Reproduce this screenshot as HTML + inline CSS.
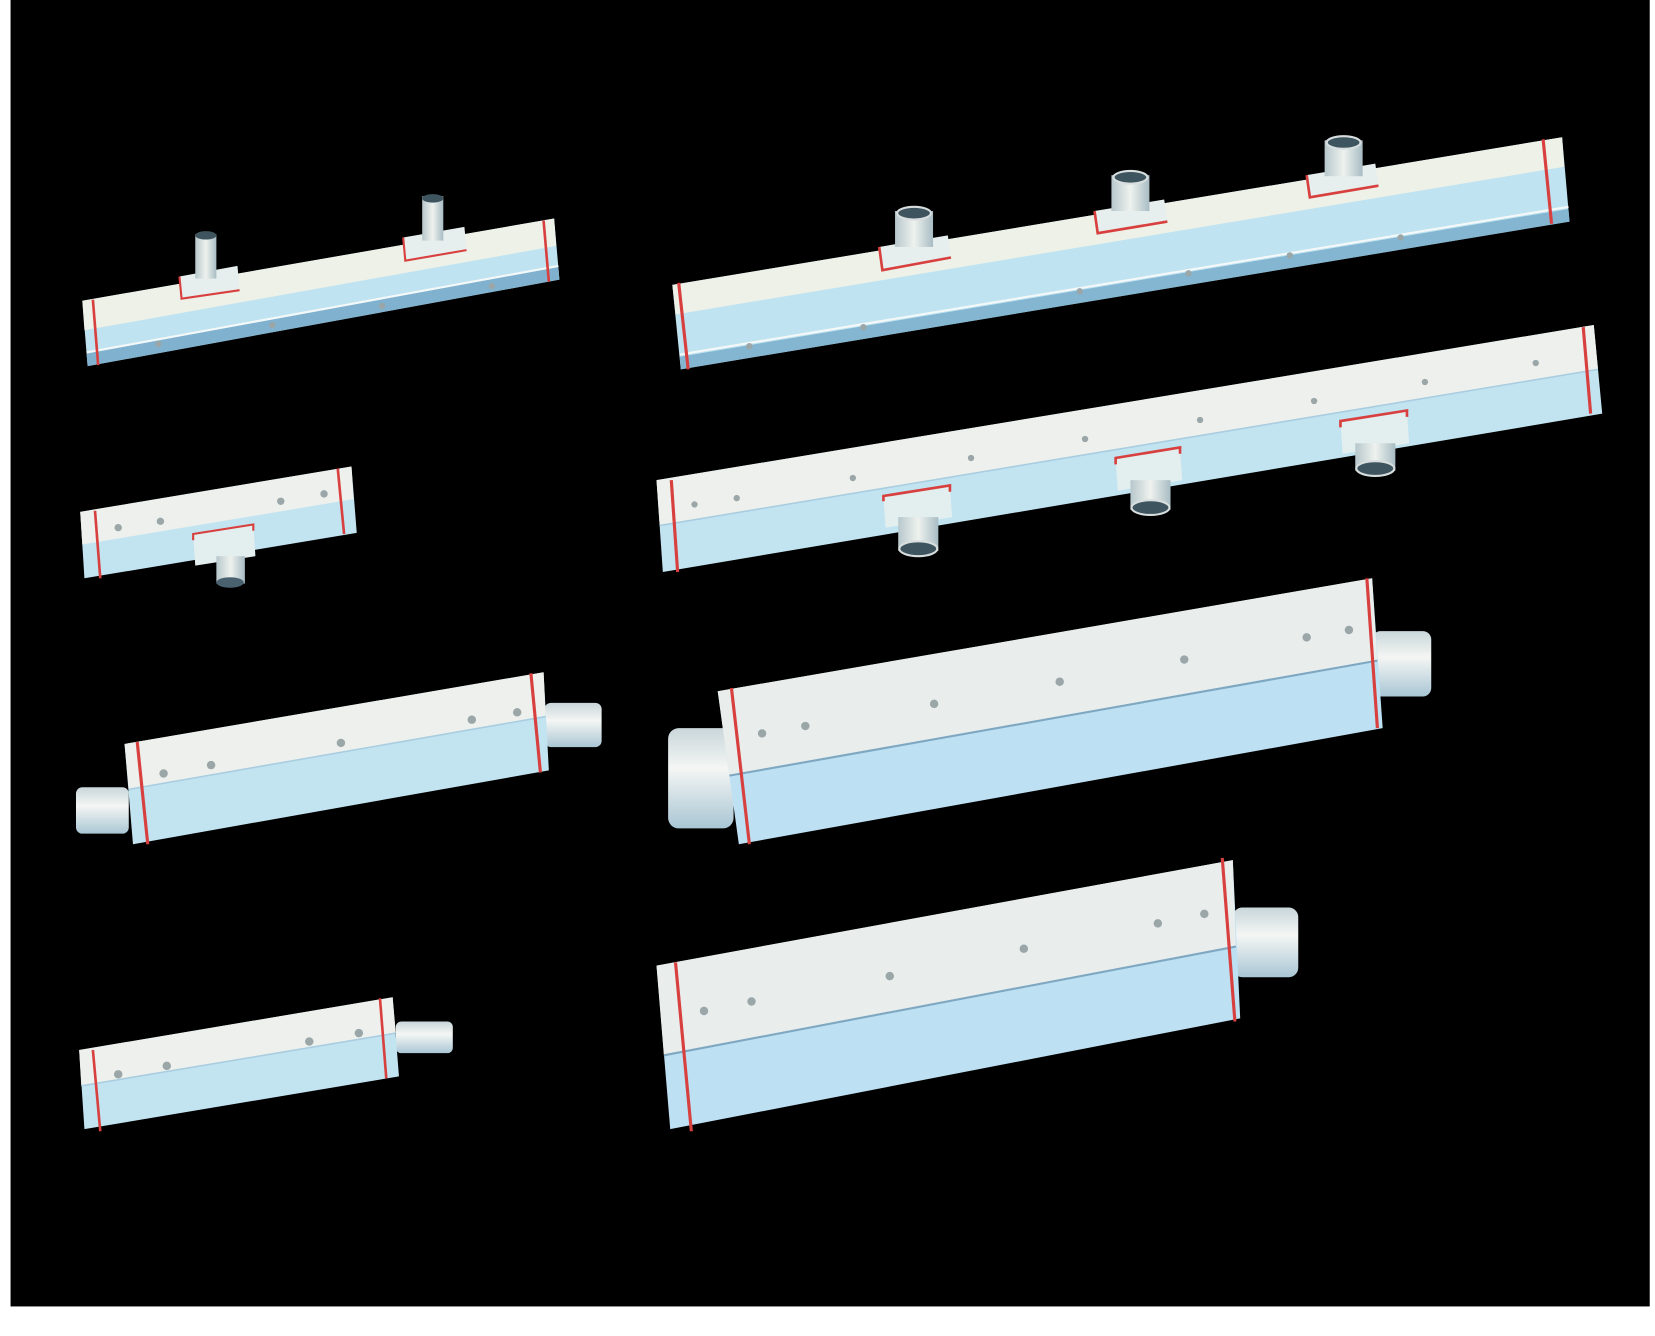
<!DOCTYPE html>
<html><head><meta charset="utf-8"><style>html,body{margin:0;padding:0;background:#fff}svg{display:block}</style></head><body>
<svg width="1655" height="1336" viewBox="0 0 1568 1266" preserveAspectRatio="none" xmlns="http://www.w3.org/2000/svg">
<defs>
<linearGradient id="cyl" x1="0" y1="0" x2="0" y2="1"><stop offset="0" stop-color="#c9d6da"/><stop offset="0.4" stop-color="#f4f6f4"/><stop offset="1" stop-color="#a9c6d4"/></linearGradient>
<linearGradient id="pipe" x1="0" y1="0" x2="1" y2="0"><stop offset="0" stop-color="#b7c7cc"/><stop offset="0.5" stop-color="#eef2ee"/><stop offset="1" stop-color="#a8bcc4"/></linearGradient>
</defs>
<rect x="0" y="0" width="1568" height="1266" fill="#fff"/>
<rect x="10" y="0" width="1553" height="1238" fill="#000"/>
<g stroke="none">
<!-- Bar1 -->
<polygon points="78,285 525,207 530,265 83,347" fill="#bfe3f0"/>
<polygon points="78,285 525,207 527,233 80,313" fill="#eef1e8"/>
<polygon points="82,335 529,253 530,265 83,347" fill="#80b2cf"/>
<line x1="82" y1="334" x2="529" y2="252" stroke="#f4f8f8" stroke-width="2"/>
<line x1="88" y1="284" x2="93" y2="346" stroke="#d8403f" stroke-width="2.5"/>
<line x1="515" y1="209" x2="520" y2="267" stroke="#d8403f" stroke-width="2.5"/>
<polygon points="170,262 225,252 227,275 172,283" fill="#e6efee"/>
<polyline points="170,262 172,283 227,275" fill="none" stroke="#d8403f" stroke-width="2"/>
<rect x="185" y="222" width="20" height="42" fill="url(#pipe)"/><ellipse cx="195" cy="223" rx="10" ry="4" fill="#3e5560"/>
<polygon points="382,225 440,215 442,237 384,247" fill="#e6efee"/>
<polyline points="382,225 384,247 442,237" fill="none" stroke="#d8403f" stroke-width="2"/>
<rect x="400" y="186" width="20" height="42" fill="url(#pipe)"/><ellipse cx="410" cy="188" rx="10" ry="4" fill="#3e5560"/>
<!-- Bar2 -->
<polygon points="637,270 1480,130 1487,210 645,350" fill="#bfe3f0"/>
<polygon points="637,270 1480,130 1482,158 640,298" fill="#eef1e8"/>
<polygon points="644,338 1486,198 1487,210 645,350" fill="#84b5d1"/>
<line x1="644" y1="336" x2="1486" y2="196" stroke="#f4f8f8" stroke-width="2"/>
<line x1="643" y1="268" x2="652" y2="350" stroke="#d8403f" stroke-width="3"/>
<line x1="1462" y1="132" x2="1470" y2="212" stroke="#d8403f" stroke-width="3"/>
<polygon points="833,234 898,223 901,244 836,256" fill="#e6efee"/>
<polyline points="833,234 836,256 901,244" fill="none" stroke="#d8403f" stroke-width="2.5"/>
<rect x="848" y="200" width="36" height="34" fill="url(#pipe)"/><ellipse cx="866" cy="202" rx="16" ry="6" fill="#3e5560" stroke="#d8dede" stroke-width="2"/>
<polygon points="1037,200 1103,189 1106,210 1040,221" fill="#e6efee"/>
<polyline points="1037,200 1040,221 1106,210" fill="none" stroke="#d8403f" stroke-width="2.5"/>
<rect x="1053" y="166" width="36" height="34" fill="url(#pipe)"/><ellipse cx="1071" cy="168" rx="16" ry="6" fill="#3e5560" stroke="#d8dede" stroke-width="2"/>
<polygon points="1238,166 1303,155 1306,176 1241,187" fill="#e6efee"/>
<polyline points="1238,166 1241,187 1306,176" fill="none" stroke="#d8403f" stroke-width="2.5"/>
<rect x="1255" y="133" width="36" height="34" fill="url(#pipe)"/><ellipse cx="1273" cy="135" rx="16" ry="6" fill="#3e5560" stroke="#d8dede" stroke-width="2"/>
<!-- Bar3 -->
<polygon points="622,455 1510,308 1518,392 628,542" fill="#c2e4f1"/>
<polygon points="622,455 1510,308 1514,350 625,498" fill="#edf0ec"/>
<line x1="625" y1="498" x2="1514" y2="350" stroke="#a9cde0" stroke-width="1.5"/>
<line x1="636" y1="455" x2="642" y2="542" stroke="#d8403f" stroke-width="3"/>
<line x1="1500" y1="310" x2="1507" y2="392" stroke="#d8403f" stroke-width="3"/>
<polygon points="837,470 900,460 902,490 839,500" fill="#e3eeef"/>
<polyline points="837,475 837,470 900,460 900,466" fill="none" stroke="#d8403f" stroke-width="2.5"/>
<rect x="851" y="490" width="38" height="32" fill="url(#pipe)"/><ellipse cx="870" cy="520" rx="18" ry="7" fill="#3e5560" stroke="#d8dede" stroke-width="2"/>
<polygon points="1057,434 1118,424 1120,455 1059,465" fill="#e3eeef"/>
<polyline points="1057,440 1057,434 1118,424 1118,430" fill="none" stroke="#d8403f" stroke-width="2.5"/>
<rect x="1071" y="455" width="38" height="28" fill="url(#pipe)"/><ellipse cx="1090" cy="481" rx="18" ry="7" fill="#3e5560" stroke="#d8dede" stroke-width="2"/>
<polygon points="1270,399 1333,389 1335,420 1272,430" fill="#e3eeef"/>
<polyline points="1270,405 1270,399 1333,389 1333,395" fill="none" stroke="#d8403f" stroke-width="2.5"/>
<rect x="1284" y="420" width="38" height="26" fill="url(#pipe)"/><ellipse cx="1303" cy="444" rx="18" ry="7" fill="#3e5560" stroke="#d8dede" stroke-width="2"/>
<!-- Bar4 -->
<polygon points="76,485 333,442 338,505 80,548" fill="#c2e4f1"/>
<polygon points="76,485 333,442 335,473 78,516" fill="#edf0ec"/>
<line x1="90" y1="484" x2="95" y2="548" stroke="#d8403f" stroke-width="2.5"/>
<line x1="320" y1="444" x2="326" y2="506" stroke="#d8403f" stroke-width="2.5"/>
<polygon points="183,506 240,497 242,527 185,536" fill="#e3eeef"/>
<polyline points="183,512 183,506 240,497 240,503" fill="none" stroke="#d8403f" stroke-width="2"/>
<rect x="205" y="527" width="27" height="26" fill="url(#pipe)"/><ellipse cx="218" cy="552" rx="13" ry="5" fill="#4a6270"/>
<!-- Bar5 -->
<rect x="72" y="746" width="50" height="44" rx="6" fill="url(#cyl)"/>
<rect x="516" y="666" width="54" height="42" rx="6" fill="url(#cyl)"/>
<polygon points="118,705 515,637 520,730 126,800" fill="#c2e4f1"/>
<polygon points="118,705 515,637 517,679 122,748" fill="#edf0ec"/>
<line x1="122" y1="748" x2="517" y2="679" stroke="#a9cde0" stroke-width="1.5"/>
<line x1="130" y1="703" x2="140" y2="800" stroke="#d8403f" stroke-width="3"/>
<line x1="503" y1="638" x2="512" y2="732" stroke="#d8403f" stroke-width="3"/>
<!-- Bar6 -->
<rect x="633" y="690" width="62" height="95" rx="10" fill="url(#cyl)"/>
<rect x="1300" y="598" width="56" height="62" rx="8" fill="url(#cyl)"/>
<polygon points="680,655 1300,548 1310,690 700,800" fill="#bde0f2"/>
<polygon points="680,655 1300,548 1305,626 691,735" fill="#e9edec"/>
<line x1="691" y1="735" x2="1305" y2="626" stroke="#7ea8c2" stroke-width="2"/>
<line x1="693" y1="652" x2="710" y2="800" stroke="#d8403f" stroke-width="3"/>
<line x1="1295" y1="548" x2="1305" y2="690" stroke="#d8403f" stroke-width="3"/>
<!-- Bar7 -->
<rect x="375" y="968" width="54" height="30" rx="5" fill="url(#cyl)"/>
<polygon points="75,995 372,945 378,1020 80,1070" fill="#c2e4f1"/>
<polygon points="75,995 372,945 375,979 77,1029" fill="#edf0ec"/>
<line x1="77" y1="1029" x2="375" y2="979" stroke="#a9cde0" stroke-width="1.5"/>
<line x1="88" y1="995" x2="95" y2="1072" stroke="#d8403f" stroke-width="2.5"/>
<line x1="360" y1="946" x2="366" y2="1022" stroke="#d8403f" stroke-width="2.5"/>
<!-- Bar8 -->
<rect x="1168" y="860" width="62" height="66" rx="9" fill="url(#cyl)"/>
<polygon points="622,915 1168,815 1175,965 635,1070" fill="#bde0f2"/>
<polygon points="622,915 1168,815 1171,897 629,1000" fill="#e9edec"/>
<line x1="629" y1="1000" x2="1171" y2="897" stroke="#7ea8c2" stroke-width="2"/>
<line x1="640" y1="912" x2="655" y2="1072" stroke="#d8403f" stroke-width="3"/>
<line x1="1158" y1="813" x2="1170" y2="968" stroke="#d8403f" stroke-width="3"/>
</g>
<g fill="#9aa6a8">
<circle cx="150" cy="326" r="3"/><circle cx="258" cy="308" r="3"/><circle cx="362" cy="290" r="3"/><circle cx="466" cy="271" r="3"/>
<circle cx="710" cy="328" r="3"/><circle cx="818" cy="310" r="3"/><circle cx="1023" cy="276" r="3"/><circle cx="1126" cy="259" r="3"/><circle cx="1222" cy="242" r="3"/><circle cx="1327" cy="225" r="3"/>
<circle cx="658" cy="478" r="3"/><circle cx="698" cy="472" r="3"/><circle cx="808" cy="453" r="3"/><circle cx="920" cy="434" r="3"/><circle cx="1028" cy="416" r="3"/><circle cx="1137" cy="398" r="3"/><circle cx="1245" cy="380" r="3"/><circle cx="1350" cy="362" r="3"/><circle cx="1455" cy="344" r="3"/>
<circle cx="112" cy="500" r="3.5"/><circle cx="152" cy="494" r="3.5"/><circle cx="266" cy="475" r="3.5"/><circle cx="307" cy="468" r="3.5"/>
<circle cx="155" cy="733" r="4"/><circle cx="200" cy="725" r="4"/><circle cx="323" cy="704" r="4"/><circle cx="447" cy="682" r="4"/><circle cx="490" cy="675" r="4"/>
<circle cx="722" cy="695" r="4"/><circle cx="763" cy="688" r="4"/><circle cx="885" cy="667" r="4"/><circle cx="1004" cy="646" r="4"/><circle cx="1122" cy="625" r="4"/><circle cx="1238" cy="604" r="4"/><circle cx="1278" cy="597" r="4"/>
<circle cx="112" cy="1018" r="4"/><circle cx="158" cy="1010" r="4"/><circle cx="293" cy="987" r="4"/><circle cx="340" cy="979" r="4"/>
<circle cx="667" cy="958" r="4"/><circle cx="712" cy="949" r="4"/><circle cx="843" cy="925" r="4"/><circle cx="970" cy="899" r="4"/><circle cx="1097" cy="875" r="4"/><circle cx="1141" cy="866" r="4"/>
</g>
</svg>
</body></html>
